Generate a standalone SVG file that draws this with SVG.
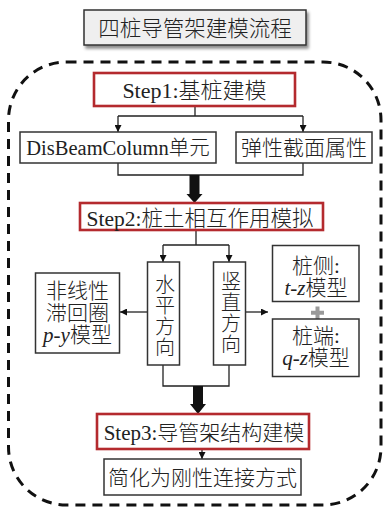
<svg xmlns="http://www.w3.org/2000/svg" width="386" height="507" viewBox="0 0 386 507">
<style>
  text { font-family: "Liberation Serif", "Noto Sans CJK SC", serif; fill: #222; text-anchor: middle; font-weight: 300; }
  .t { font-size: 21px; }
  .vt { font-size: 20px; writing-mode: vertical-rl; text-orientation: upright; letter-spacing: 1px; }
  .box { fill: #fff; stroke: #333; stroke-width: 1.5; }
  .step { fill: #fff; stroke: #b42a2e; stroke-width: 2.6; }
  .ln { fill: none; stroke: #222; stroke-width: 1.3; }
  .thick { fill: #111; stroke: none; }
</style>
<defs>
  <marker id="ah" viewBox="0 0 10 10" refX="10" refY="5" markerWidth="7" markerHeight="7" markerUnits="userSpaceOnUse" orient="auto">
    <path d="M0,0 L10,5 L0,10 z" fill="#111"/>
  </marker>
  <filter id="sh" x="-10%" y="-20%" width="130%" height="160%">
    <feDropShadow dx="2" dy="3" stdDeviation="1.5" flood-color="#000" flood-opacity="0.45"/>
  </filter>
</defs>
<rect width="386" height="507" fill="#fff"/>

<g id="title">
  <rect x="84" y="10" width="222" height="35" fill="#efefef" stroke="#333" stroke-width="1.5" filter="url(#sh)"/>
  <text x="195" y="36" style="font-size:21.5px">四桩导管架建模流程</text>
</g>

<g id="frame">
  <rect x="8.5" y="62" width="372.5" height="443" rx="58" ry="58" fill="none" stroke="#111" stroke-width="3" stroke-dasharray="10 7"/>
</g>

<g id="connectors">
  <path class="ln" d="M195,106 V116 M118,116 H303"/>
  <path class="ln" d="M118,116 V132" marker-end="url(#ah)"/>
  <path class="ln" d="M303,116 V132" marker-end="url(#ah)"/>
  <path class="ln" d="M118,163 V175 H303 V163"/>
  <polygon class="thick" points="189.5,175 199.5,175 199.5,194 202.5,194 194.5,203 186.5,194 189.5,194"/>
  <path class="ln" d="M196,230 V245 M163,245 H229"/>
  <path class="ln" d="M163,245 V262" marker-end="url(#ah)"/>
  <path class="ln" d="M229,245 V262" marker-end="url(#ah)"/>
  <path class="ln" d="M148,312 H120" stroke-width="1.8" marker-end="url(#ah)"/>
  <path class="ln" d="M245,312 H268" stroke-width="1.8" marker-end="url(#ah)"/>
  <path class="ln" d="M163,365 V386 H229 V365"/>
  <polygon class="thick" points="193,386 203,386 203,404 206,404 198,414 190,404 193,404"/>
  <path class="ln" d="M202,449 V459" marker-end="url(#ah)"/>
</g>

<g id="step1">
  <rect class="step" x="94" y="73" width="201" height="33"/>
  <text class="t" x="194.5" y="98" style="font-size:22px">Step1:基桩建模</text>
</g>

<g id="disbeam">
  <rect class="box" x="20" y="132" width="196" height="31"/>
  <text class="t" x="118" y="155" style="font-size:20.5px">DisBeamColumn单元</text>
</g>

<g id="elastic">
  <rect class="box" x="236" y="132" width="136" height="31"/>
  <text class="t" x="304" y="155">弹性截面属性</text>
</g>

<g id="step2">
  <rect class="step" x="80" y="203" width="243" height="27"/>
  <text class="t" x="200" y="226" style="font-size:21.5px">Step2:桩土相互作用模拟</text>
</g>

<g id="horizontal">
  <rect class="box" x="147.5" y="262" width="32" height="103"/>
  <text class="vt" x="163.5" y="316">水平方向</text>
</g>

<g id="vertical">
  <rect class="box" x="213.5" y="262" width="32" height="103"/>
  <text class="vt" x="229.5" y="313">竖直方向</text>
</g>

<g id="py">
  <rect class="box" x="35.5" y="273" width="84" height="80"/>
  <text class="t" x="77.5" y="298">非线性</text>
  <text class="t" x="77.5" y="320">滞回圈</text>
  <text class="t" x="77.5" y="342"><tspan font-style="italic">p-y</tspan>模型</text>
</g>

<g id="tz">
  <rect class="box" x="272.5" y="245.5" width="86.5" height="56"/>
  <text class="t" x="316" y="273">桩侧:</text>
  <text class="t" x="316" y="295"><tspan font-style="italic">t-z</tspan>模型</text>
</g>

<g id="plus">
  <path d="M317.5,306.5 V319 M311,312.8 H324" stroke="#9a9a9a" stroke-width="4" fill="none"/>
</g>

<g id="qz">
  <rect class="box" x="272.5" y="319" width="86.5" height="57.5"/>
  <text class="t" x="316" y="343">桩端:</text>
  <text class="t" x="316" y="365"><tspan font-style="italic">q-z</tspan>模型</text>
</g>

<g id="step3">
  <rect class="step" x="97" y="414" width="212" height="35"/>
  <text class="t" x="204" y="440">Step3:导管架结构建模</text>
</g>

<g id="rigid">
  <rect class="box" x="104" y="459" width="197" height="36"/>
  <text class="t" x="202.5" y="485">简化为刚性连接方式</text>
</g>
</svg>
